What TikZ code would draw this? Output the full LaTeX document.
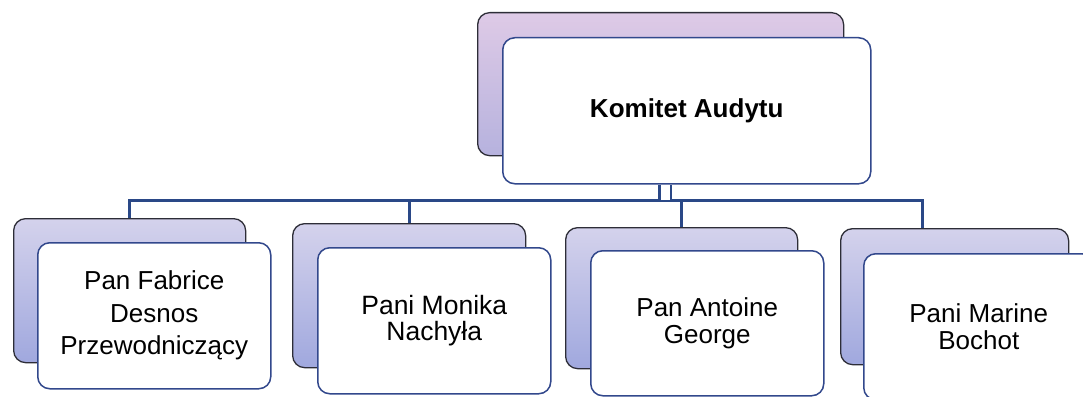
\documentclass[tikz,border=0pt]{standalone}
\usepackage{fontspec}
\setmainfont{Liberation Sans}
\definecolor{navy}{RGB}{42,72,135}
\definecolor{frontedge}{RGB}{50,72,140}
\definecolor{backedge}{RGB}{45,45,55}
\definecolor{pinktop}{RGB}{222,202,230}
\definecolor{pinkbot}{RGB}{182,178,222}
\definecolor{lavtop}{RGB}{212,210,236}
\definecolor{lavbot}{RGB}{160,168,222}
\tikzset{
  backbox/.style={draw=backedge, line width=1.3pt, rounded corners=12pt, top color=lavtop, bottom color=lavbot, anchor=north west, inner sep=0pt},
  topbackbox/.style={backbox, top color=pinktop, bottom color=pinkbot},
  frontbox/.style={draw=frontedge, line width=1.5pt, rounded corners=12pt, fill=white, anchor=north west, inner sep=0pt, align=center, font=\fontsize{26.5}{26.5}\selectfont},
  conn/.style={draw=navy, line width=3pt},
}
\begin{document}
\begin{tikzpicture}[x=1pt,y=-1pt]
\useasboundingbox (0,0) rectangle (1083,396);
\clip (0,0) rectangle (1083,396);
\fill[white] (0,0) rectangle (1083,396);
% top
\node[topbackbox, minimum width=366pt, minimum height=143pt] (topback) at (477,12) {};
\node[frontbox, minimum width=368pt, minimum height=146pt, font=\fontsize{26}{32}\selectfont\bfseries] (top) at (502,37) {Komitet Audytu};
% children
\node[backbox, minimum width=232pt, minimum height=144pt] (b1back) at (13,218) {};
\node[frontbox, minimum width=233pt, minimum height=146pt, font=\fontsize{26}{32.5}\selectfont] (b1) at (37,242) {Pan Fabrice\\Desnos\\Przewodniczący};
\node[backbox, minimum width=233pt, minimum height=144pt] (b2back) at (292,223) {};
\node[frontbox, minimum width=233pt, minimum height=146pt] (b2) at (317,247) {Pani Monika\\Nachyła};
\node[backbox, minimum width=232pt, minimum height=141pt] (b3back) at (565,227) {};
\node[frontbox, minimum width=233pt, minimum height=145pt, font=\fontsize{26}{26.5}\selectfont] (b3) at (590,250) {Pan Antoine\\George};
\node[backbox, minimum width=228pt, minimum height=136pt] (b4back) at (840,228) {};
\node[frontbox, minimum width=230pt, minimum height=146pt, font=\fontsize{26}{26.5}\selectfont] (b4) at (863,253) {Pani Marine\\Bochot};
% connectors
\coordinate (bus) at (0,200);
\coordinate (j4) at (922,200);
\coordinate (jt) at (665,200);
\draw[conn] (b1back.north) -- (b1back.north |- bus) -- (j4) -- (j4 |- b4back.north);
\draw[conn] (b2back.north) -- (b2back.north |- bus);
\draw[conn] (b3back.north) -- (b3back.north |- bus);
\draw[draw=navy, line width=2.2pt, double=white, double distance=9pt] (jt) -- (jt |- top.south);
\end{tikzpicture}
\end{document}
